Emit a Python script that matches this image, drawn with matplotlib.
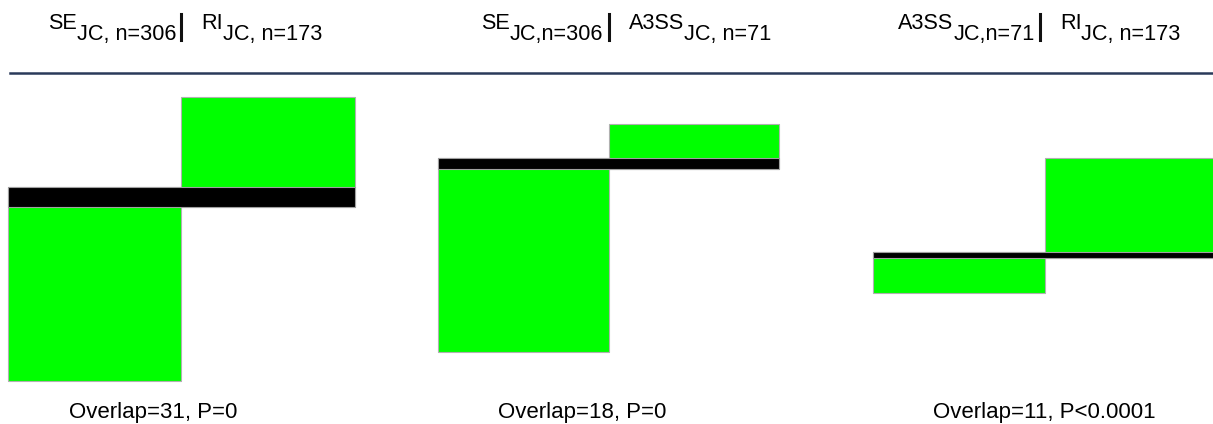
import matplotlib.pyplot as plt
import matplotlib.transforms as mtransforms
from matplotlib.patches import Rectangle
from matplotlib.lines import Line2D

# data: set sizes and overlaps for each comparison
left_names = ['SE', 'SE', 'A3SS']
left_subs = ['JC, n=306', 'JC,n=306', 'JC,n=71']
right_names = ['RI', 'A3SS', 'RI']
right_subs = ['JC, n=173', 'JC, n=71', 'JC, n=173']
left_n = [306, 306, 71]
right_n = [173, 71, 173]
overlap = [31, 18, 11]
p_values = ['=0', '=0', '<0.0001']

plt.rcParams['font.family'] = ['Liberation Sans', 'DejaVu Sans']

W, H = 1213, 424
fig = plt.figure(figsize=(W / 100, H / 100), dpi=100)

# layout (pixels): panel x extents, axes vertical span, zero line and scale per panel
panel_px = [(8, 355), (438, 779), (873, 1217)]
ax_top, ax_bot = 80, 395
zero_px = [207, 169, 258]
px_per_unit = [0.633, 0.636, 0.578]
bar_shift = [0.0, 0.0, -0.03]

green = '#00ff00'
hfs = 15.6

for i in range(3):
    x0, x1 = panel_px[i]
    ax = fig.add_axes([x0 / W, (H - ax_bot) / H, (x1 - x0) / W, (ax_bot - ax_top) / H])
    ax.set_xlim(0, 2)
    s = px_per_unit[i]
    ax.set_ylim(-(ax_bot - zero_px[i]) / s, (zero_px[i] - ax_top) / s)
    ax.axis('off')

    ov = overlap[i]
    # left set hangs down from the top of the overlap, right set rises from its bottom
    ax.add_patch(Rectangle((0, ov - left_n[i]), 1, left_n[i], facecolor=green,
                           edgecolor='#b0b0b0', lw=0.8, clip_on=False))
    ax.add_patch(Rectangle((1, 0), 1, right_n[i], facecolor=green,
                           edgecolor='#b0b0b0', lw=0.8, clip_on=False))
    ax.add_patch(Rectangle((0, 0), 2, ov, facecolor='black',
                           edgecolor='#a0a0a0', lw=0.8, clip_on=False, zorder=3))

    # header: name with lowered label, a divider, then the second name
    tr = mtransforms.blended_transform_factory(ax.transData, fig.transFigure)
    bar_x = 1.0 + bar_shift[i]
    fig.add_artist(Line2D([bar_x, bar_x], [(H - 14) / H, (H - 40) / H], transform=tr,
                          color='#111111', lw=2.2))
    lsub = ax.annotate(left_subs[i], xy=(bar_x, (H - 40) / H), xycoords=tr,
                       xytext=(-5, 0), textcoords='offset pixels',
                       ha='right', va='baseline', fontsize=hfs, annotation_clip=False)
    ax.annotate(left_names[i], xy=(0, 0), xycoords=lsub, xytext=(0, 11),
                textcoords='offset pixels', ha='right', va='bottom', fontsize=hfs,
                annotation_clip=False)
    rname = ax.annotate(right_names[i], xy=(bar_x, (H - 29) / H), xycoords=tr,
                        xytext=(20, 0), textcoords='offset pixels',
                        ha='left', va='baseline', fontsize=hfs, annotation_clip=False)
    ax.annotate(right_subs[i], xy=(1, 0), xycoords=rname, xytext=(0, -11),
                textcoords='offset pixels', ha='left', va='bottom', fontsize=hfs,
                annotation_clip=False)

    # bottom label
    ax.text(0.35, (H - 418) / H, 'Overlap=%d, P%s' % (ov, p_values[i]),
            transform=tr, ha='left', va='baseline', fontsize=16)

# rule under the headers
fig.add_artist(Line2D([10 / W, 1.0], [(H - 73) / H] * 2, color='#2a3a5a', lw=1.8))

fig.savefig('out.png', dpi=100)
